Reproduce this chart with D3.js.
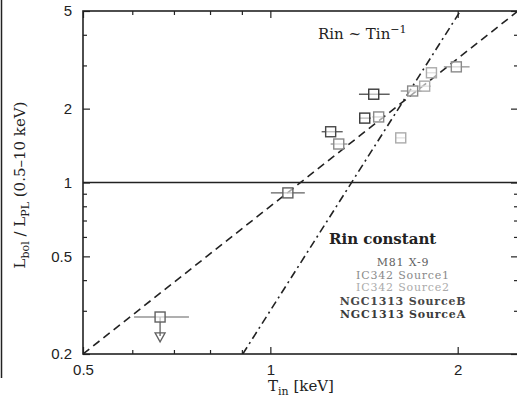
<!DOCTYPE html>
<html>
<head>
<meta charset="utf-8">
<script src="https://cdn.jsdelivr.net/npm/d3@7"></script>
<style>
  body { margin: 0; background: #fff; }
  svg { display: block; font-family: "DejaVu Serif", "Liberation Serif", serif; }
</style>
</head>
<body>
<svg></svg>
<script>
// L_bol / L_PL versus T_in, log-log

var xMajor = [0.5, 1, 2],
    xMinor = [0.6, 0.7, 0.8, 0.9],
    yMajor = [0.2, 0.5, 1, 2, 5],
    yMinor = [0.3, 0.4, 0.6, 0.7, 0.8, 0.9, 3, 4];

var sources = ["M81 X-9", "IC342 Source1", "IC342 Source2", "NGC1313 SourceB", "NGC1313 SourceA"];

// measurements
var ptSource = [0, 0, 3, 1, 4, 1, 4, 2, 1, 2, 2, 1],
    ptT      = [1.067, 0.665, 1.25, 1.288, 1.418, 1.493, 1.466, 1.62, 1.693, 1.77, 1.815, 1.99],
    ptTlo    = [1.002, 0.604, 1.209, 1.25, 1.39, 1.46, 1.388, 1.59, 1.62, 1.73, 1.78, 1.90],
    ptThi    = [1.136, 0.740, 1.307, 1.33, 1.45, 1.52, 1.555, 1.65, 1.75, 1.81, 1.85, 2.09],
    ptL      = [0.907, 0.283, 1.61, 1.435, 1.83, 1.85, 2.29, 1.52, 2.36, 2.47, 2.80, 2.96],
    ptLimit  = [null, 0.224, null, null, null, null, null, null, null, null, null, null];

// model lines (end points)
var lineT2 = [[0.5, 0.2], [2.5, 5]],      // Rin ~ Tin^-1
    lineT4 = [[0.903, 0.2], [2.02, 5]],   // Rin constant
    lineOne = [[0.5, 1], [2.5, 1]];

var srcColor = ["#606060", "#8a8a8a", "#ababab", "#474747", "#3a3a3a"];

var width = 517, height = 400,
    margin = {top: 11, right: -1, bottom: 46, left: 83},
    plotW = width - margin.left - margin.right,
    plotH = height - margin.top - margin.bottom;

var svg = d3.select("svg")
    .attr("width", width)
    .attr("height", height);

// stray axis of the neighbouring panel on the scan
svg.append("line")
    .attr("x1", 1.5).attr("x2", 1.5).attr("y1", 0).attr("y2", 378)
    .attr("stroke", "#222").attr("stroke-width", 1.5);

var g = svg.append("g")
    .attr("transform", "translate(" + margin.left + "," + margin.top + ")");

var xScale = d3.scaleLog().domain([0.5, 2.5]).range([0, plotW]);
var yScale = d3.scaleLog().domain([0.2, 5]).range([plotH, 0]);

function styleAxis(sel) {
   sel.select(".domain").remove();
   sel.selectAll(".tick line").attr("stroke", "#222").attr("stroke-width", 1.2);
   sel.selectAll("text").attr("fill", "#222").style("font-size", "15px");
}

// bottom
g.append("g").attr("transform", "translate(0," + plotH + ")")
   .call(d3.axisBottom(xScale).tickValues(xMajor).tickSize(-7).tickPadding(10)
      .tickFormat(d3.format("")))
   .call(styleAxis);
g.append("g").attr("transform", "translate(0," + plotH + ")")
   .call(d3.axisBottom(xScale).tickValues(xMinor).tickSize(-4).tickFormat(""))
   .call(styleAxis);
// top
g.append("g")
   .call(d3.axisTop(xScale).tickValues(xMajor).tickSize(-7).tickFormat(""))
   .call(styleAxis);
g.append("g")
   .call(d3.axisTop(xScale).tickValues(xMinor).tickSize(-4).tickFormat(""))
   .call(styleAxis);
// left
g.append("g")
   .call(d3.axisLeft(yScale).tickValues(yMajor).tickSize(-7).tickPadding(11)
      .tickFormat(d3.format("")))
   .call(styleAxis);
g.append("g")
   .call(d3.axisLeft(yScale).tickValues(yMinor).tickSize(-4).tickFormat(""))
   .call(styleAxis);
// right
g.append("g").attr("transform", "translate(" + plotW + ",0)")
   .call(d3.axisRight(yScale).tickValues(yMajor).tickSize(-7).tickFormat(""))
   .call(styleAxis);
g.append("g").attr("transform", "translate(" + plotW + ",0)")
   .call(d3.axisRight(yScale).tickValues(yMinor).tickSize(-4).tickFormat(""))
   .call(styleAxis);

g.append("rect")
   .attr("width", plotW).attr("height", plotH)
   .attr("fill", "none").attr("stroke", "#222").attr("stroke-width", 1.6);

var line = d3.line()
   .x(function(d) { return xScale(d[0]); })
   .y(function(d) { return yScale(d[1]); });

g.append("clipPath").attr("id", "clip")
   .append("rect").attr("width", plotW).attr("height", plotH);

var lines = g.append("g").attr("clip-path", "url(#clip)");

lines.append("path").datum(lineOne).attr("d", line)
   .attr("fill", "none").attr("stroke", "#222").attr("stroke-width", 1.6);
lines.append("path").datum(lineT2).attr("d", line)
   .attr("fill", "none").attr("stroke", "#222").attr("stroke-width", 1.6)
   .attr("stroke-dasharray", "8,5");
lines.append("path").datum(lineT4).attr("d", line)
   .attr("fill", "none").attr("stroke", "#222").attr("stroke-width", 1.6)
   .attr("stroke-dasharray", "8,4,2,4");

// data points
var pts = d3.range(ptT.length);
var dots = g.append("g");

dots.selectAll(".ebar").data(pts).enter().append("line")
   .attr("x1", function(i) { return xScale(ptTlo[i]); })
   .attr("x2", function(i) { return xScale(ptThi[i]); })
   .attr("y1", function(i) { return yScale(ptL[i]); })
   .attr("y2", function(i) { return yScale(ptL[i]); })
   .attr("stroke", function(i) { return srcColor[ptSource[i]]; })
   .attr("stroke-width", 1.2);

var lim = pts.filter(function(i) { return ptLimit[i] !== null; });
dots.selectAll(".lim").data(lim).enter().append("line")
   .attr("x1", function(i) { return xScale(ptT[i]); })
   .attr("x2", function(i) { return xScale(ptT[i]); })
   .attr("y1", function(i) { return yScale(ptL[i]); })
   .attr("y2", function(i) { return yScale(ptLimit[i]) - 6; })
   .attr("stroke", function(i) { return srcColor[ptSource[i]]; })
   .attr("stroke-width", 1.3);
dots.selectAll(".head").data(lim).enter().append("path")
   .attr("d", function(i) {
      var x = xScale(ptT[i]), y = yScale(ptLimit[i]);
      return "M" + (x - 5) + "," + (y - 9) + "L" + (x + 5) + "," + (y - 9) + "L" + x + "," + y + "Z";
   })
   .attr("fill", "none")
   .attr("stroke", function(i) { return srcColor[ptSource[i]]; })
   .attr("stroke-width", 1.3);

dots.selectAll("rect.pt").data(pts).enter().append("rect")
   .attr("class", "pt")
   .attr("x", function(i) { return xScale(ptT[i]) - 5; })
   .attr("y", function(i) { return yScale(ptL[i]) - 5; })
   .attr("width", 10).attr("height", 10)
   .attr("fill", "#fff").attr("fill-opacity", 0.6)
   .attr("stroke", function(i) { return srcColor[ptSource[i]]; })
   .attr("stroke-width", 1.4);

// annotations
var t1 = svg.append("text").attr("x", 318).attr("y", 39)
   .attr("fill", "#222").style("font-size", "15px");
t1.append("tspan").text("Rin ~ Tin");
t1.append("tspan").attr("dy", -6).style("font-size", "11px").text("\u22121");

svg.append("text").attr("x", 329).attr("y", 244)
   .attr("fill", "#222").style("font-size", "15px").style("font-weight", "bold")
   .text("Rin constant");

var legY = [266, 279, 291, 305, 318];
svg.append("g").selectAll("text").data(sources).enter().append("text")
   .attr("x", 403)
   .attr("y", function(d, i) { return legY[i]; })
   .attr("text-anchor", "middle")
   .attr("fill", function(d, i) { return srcColor[i]; })
   .style("font-size", "11px")
   .style("letter-spacing", "0.8px")
   .style("font-weight", function(d, i) { return i >= 3 ? "bold" : "normal"; })
   .text(function(d) { return d; });

// axis titles
var xl = svg.append("text").attr("x", 301).attr("y", 391)
   .attr("text-anchor", "middle").attr("fill", "#222").style("font-size", "15px");
xl.append("tspan").text("T");
xl.append("tspan").attr("dy", 4).style("font-size", "11px").text("in");
xl.append("tspan").attr("dy", -4).text(" [keV]");

var yl = svg.append("text")
   .attr("transform", "translate(25,185) rotate(-90)")
   .attr("text-anchor", "middle").attr("fill", "#222").style("font-size", "15px");
yl.append("tspan").text("L");
yl.append("tspan").attr("dy", 4).style("font-size", "11px").text("bol");
yl.append("tspan").attr("dy", -4).text(" / L");
yl.append("tspan").attr("dy", 4).style("font-size", "11px").text("PL");
yl.append("tspan").attr("dy", -4).text(" (0.5\u201310 keV)");
</script>
</body>
</html>
